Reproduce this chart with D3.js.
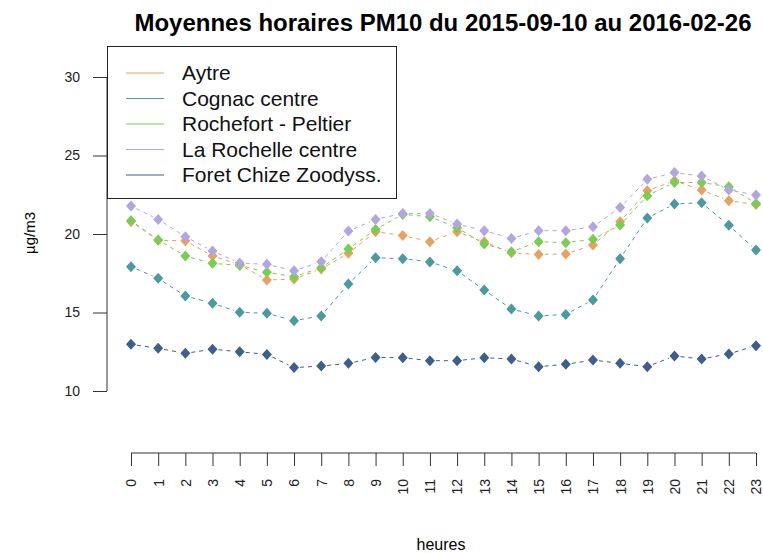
<!DOCTYPE html>
<html>
<head>
<meta charset="utf-8">
<script src="https://cdnjs.cloudflare.com/ajax/libs/d3/7.8.5/d3.min.js"></script>
<style>
  body { margin: 0; background: #fff; }
  svg { font-family: "Liberation Sans", Arial, sans-serif; }
</style>
</head>
<body>
<svg id="chart" width="763" height="553"></svg>
<script>
var width = 763;
var height = 553;

// heures 0..23
var hours = d3.range(0, 24);
var yTicks = [10, 15, 20, 25, 30];

var stations = ["Aytre", "Cognac centre", "Rochefort - Peltier", "La Rochelle centre", "Foret Chize Zoodyss."];
var colors = ["#E9A060", "#4C9A9F", "#7ACC55", "#B3A5DE", "#3E5F8A"];

var aytre = [20.8, 19.6, 19.57, 18.6, 18.05, 17.07, 17.13, 17.77, 18.77, 20.15, 19.9, 19.51,
    20.15, 19.5, 18.8, 18.7, 18.73, 19.3, 20.78, 22.76, 23.39, 22.8, 22.12, 21.88];
var cognac = [17.92, 17.18, 16.05, 15.59, 15.01, 14.95, 14.48, 14.78, 16.82, 18.49, 18.43, 18.22,
    17.66, 16.43, 15.22, 14.78, 14.88, 15.8, 18.43, 21.02, 21.91, 21.99, 20.55, 18.98];
var rochefort = [20.85, 19.62, 18.6, 18.13, 18.0, 17.56, 17.28, 17.85, 19.04, 20.29, 21.25, 21.1,
    20.4, 19.36, 18.87, 19.51, 19.45, 19.66, 20.57, 22.44, 23.28, 23.28, 23.01, 21.95];
var larochelle = [21.78, 20.93, 19.83, 18.92, 18.15, 18.07, 17.66, 18.24, 20.19, 20.93, 21.31, 21.31,
    20.64, 20.21, 19.72, 20.21, 20.21, 20.46, 21.69, 23.48, 23.91, 23.69, 22.8, 22.48];
var foret = [12.97, 12.72, 12.4, 12.66, 12.5, 12.33, 11.49, 11.59, 11.76, 12.14, 12.12, 11.93,
    11.93, 12.12, 12.04, 11.55, 11.7, 11.97, 11.76, 11.55, 12.23, 12.04, 12.36, 12.89];

var series = [aytre, cognac, rochefort, larochelle, foret];

var svg = d3.select("#chart");

var x = d3.scaleLinear().domain([0, 23]).range([131, 756]);
var y = d3.scaleLinear().domain([10, 30]).range([391, 77]);

// title
svg.append("text")
    .attr("x", 443)
    .attr("y", 31)
    .attr("text-anchor", "middle")
    .attr("textLength", 617)
    .attr("lengthAdjust", "spacingAndGlyphs")
    .style("font-size", "23px")
    .style("font-weight", "bold")
    .text("Moyennes horaires PM10 du 2015-09-10 au 2016-02-26");

// y axis (R style, offset from the data)
var yAxis = svg.append("g")
    .attr("transform", "translate(107,0)")
    .call(d3.axisLeft(y).tickValues(yTicks).tickSize(14).tickPadding(13));
yAxis.select(".domain").attr("d", "M0," + y(10) + "V" + y(30)).attr("stroke", "#333");
yAxis.selectAll(".tick line").attr("stroke", "#333");
yAxis.selectAll(".tick text").style("font-size", "14px").attr("fill", "#222");

// x axis
var xAxis = svg.append("g")
    .attr("transform", "translate(0,453)")
    .call(d3.axisBottom(x).tickValues(hours).tickSize(13).tickFormat(d3.format("d")));
xAxis.select(".domain").attr("d", "M" + x(0) + ",0H" + x(23)).attr("stroke", "#333");
xAxis.selectAll(".tick line").attr("stroke", "#333");
xAxis.selectAll(".tick text")
    .style("font-size", "14px")
    .attr("fill", "#222")
    .attr("transform", "rotate(-90)")
    .attr("text-anchor", "end")
    .attr("x", -26)
    .attr("y", 0)
    .attr("dy", "0.35em");

// axis labels
svg.append("text")
    .attr("x", 441)
    .attr("y", 550)
    .attr("text-anchor", "middle")
    .style("font-size", "16px")
    .text("heures");

svg.append("text")
    .attr("transform", "translate(35,233) rotate(-90)")
    .attr("text-anchor", "middle")
    .style("font-size", "15px")
    .text("µg/m3");

// dashed segments with gaps around the points, like type="b"
var gap = 6;
series.forEach(function(vals, i) {
    var g = svg.append("g");
    for (var k = 0; k < vals.length - 1; k++) {
        var x1 = x(hours[k]), y1 = y(vals[k]);
        var x2 = x(hours[k + 1]), y2 = y(vals[k + 1]);
        var len = Math.sqrt((x2 - x1) * (x2 - x1) + (y2 - y1) * (y2 - y1));
        var ux = (x2 - x1) / len, uy = (y2 - y1) / len;
        g.append("line")
            .attr("x1", x1 + ux * gap)
            .attr("y1", y1 + uy * gap)
            .attr("x2", x2 - ux * gap)
            .attr("y2", y2 - uy * gap)
            .attr("stroke", colors[i])
            .attr("stroke-width", 1)
            .attr("stroke-dasharray", "4,4");
    }
    g.selectAll("path.pt")
        .data(vals)
        .enter().append("path")
        .attr("class", "pt")
        .attr("d", "M0,-5.5L5,0L0,5.5L-5,0Z")
        .attr("transform", function(d, j) { return "translate(" + x(hours[j]) + "," + y(d) + ")"; })
        .attr("fill", colors[i]);
});

// legend
var legend = svg.append("g");
legend.append("rect")
    .attr("x", 107.5)
    .attr("y", 46.5)
    .attr("width", 289)
    .attr("height", 152)
    .attr("fill", "#fff")
    .attr("stroke", "#222")
    .attr("stroke-width", 1);
stations.forEach(function(s, i) {
    var ly = 73 + i * 25.5;
    legend.append("line")
        .attr("x1", 126).attr("x2", 164)
        .attr("y1", ly).attr("y2", ly)
        .attr("stroke", colors[i])
        .attr("stroke-width", 1);
    legend.append("text")
        .attr("x", 182)
        .attr("y", ly)
        .attr("dy", "0.35em")
        .style("font-size", "21px")
        .attr("fill", "#111")
        .text(s);
});
</script>
</body>
</html>
